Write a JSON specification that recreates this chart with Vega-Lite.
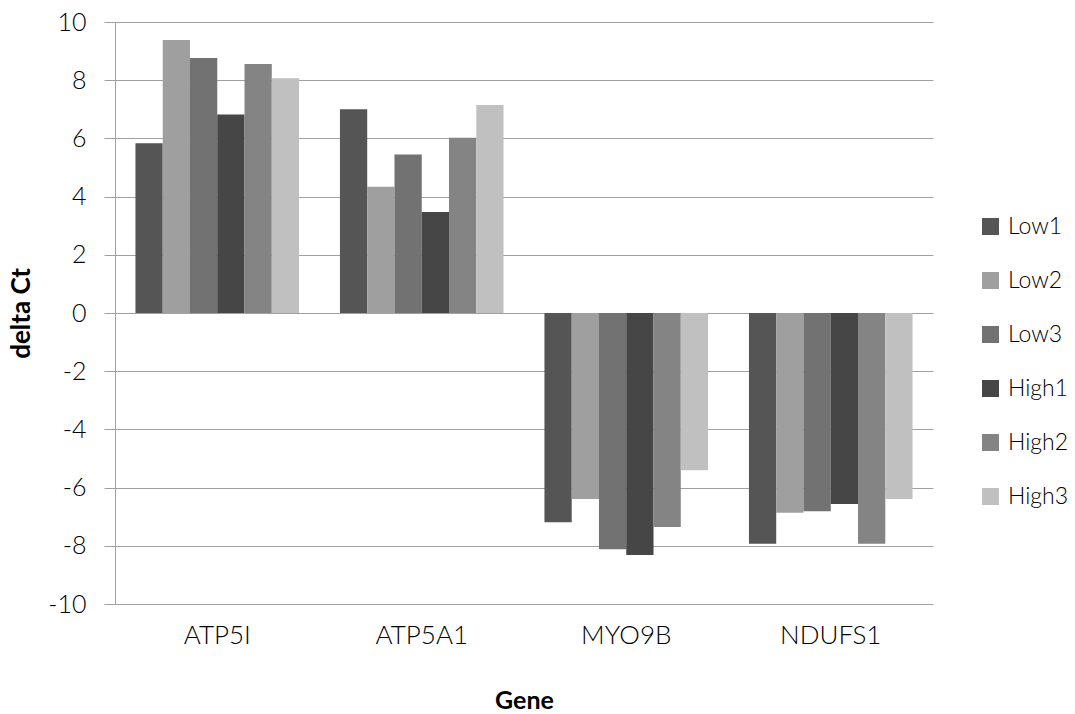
{
  "$schema": "https://vega.github.io/schema/vega-lite/v6.json",
  "width": 818,
  "height": 582,
  "autosize": {"type": "none"},
  "padding": {"left": 115, "top": 22, "right": 142, "bottom": 110},
  "background": "white",
  "config": {
    "view": {"stroke": null},
    "font": "Lato",
    "axis": {"labelFont": "Lato", "titleFont": "Lato", "labelColor": "#000", "titleColor": "#000"},
    "legend": {"labelFont": "Lato", "labelColor": "#000"}
  },
  "data": {
    "values": [
      {"gene": "ATP5I", "sample": "Low1", "dct": 5.83},
      {"gene": "ATP5I", "sample": "Low2", "dct": 9.38},
      {"gene": "ATP5I", "sample": "Low3", "dct": 8.76},
      {"gene": "ATP5I", "sample": "High1", "dct": 6.82},
      {"gene": "ATP5I", "sample": "High2", "dct": 8.56},
      {"gene": "ATP5I", "sample": "High3", "dct": 8.07},
      {"gene": "ATP5A1", "sample": "Low1", "dct": 7.0},
      {"gene": "ATP5A1", "sample": "Low2", "dct": 4.34},
      {"gene": "ATP5A1", "sample": "Low3", "dct": 5.45},
      {"gene": "ATP5A1", "sample": "High1", "dct": 3.47},
      {"gene": "ATP5A1", "sample": "High2", "dct": 6.02},
      {"gene": "ATP5A1", "sample": "High3", "dct": 7.15},
      {"gene": "MYO9B", "sample": "Low1", "dct": -7.19},
      {"gene": "MYO9B", "sample": "Low2", "dct": -6.39},
      {"gene": "MYO9B", "sample": "Low3", "dct": -8.12},
      {"gene": "MYO9B", "sample": "High1", "dct": -8.32},
      {"gene": "MYO9B", "sample": "High2", "dct": -7.35},
      {"gene": "MYO9B", "sample": "High3", "dct": -5.4},
      {"gene": "NDUFS1", "sample": "Low1", "dct": -7.93},
      {"gene": "NDUFS1", "sample": "Low2", "dct": -6.86},
      {"gene": "NDUFS1", "sample": "Low3", "dct": -6.81},
      {"gene": "NDUFS1", "sample": "High1", "dct": -6.56},
      {"gene": "NDUFS1", "sample": "High2", "dct": -7.93},
      {"gene": "NDUFS1", "sample": "High3", "dct": -6.39}
    ]
  },
  "mark": {"type": "bar"},
  "encoding": {
    "x": {
      "field": "gene",
      "type": "nominal",
      "sort": ["ATP5I", "ATP5A1", "MYO9B", "NDUFS1"],
      "scale": {"paddingInner": 0.2, "paddingOuter": 0.1},
      "axis": {
        "title": "Gene",
        "titleFontSize": 25,
        "titleFontWeight": "bold",
        "titlePadding": 40,
        "labelAngle": 0,
        "labelFontSize": 26,
        "labelFontWeight": 300,
        "labelPadding": 18,
        "domain": false,
        "ticks": false,
        "grid": false
      }
    },
    "xOffset": {
      "field": "sample",
      "type": "nominal",
      "sort": ["Low1", "Low2", "Low3", "High1", "High2", "High3"],
      "scale": {"paddingInner": 0, "paddingOuter": 0}
    },
    "y": {
      "field": "dct",
      "type": "quantitative",
      "scale": {"domain": [-10, 10], "nice": false},
      "axis": {
        "title": "delta Ct",
        "titleFontSize": 26,
        "titleFontWeight": "bold",
        "titlePadding": 13,
        "values": [-10, -8, -6, -4, -2, 0, 2, 4, 6, 8, 10],
        "labelExpr": "toString(datum.value)",
        "labelFontSize": 25,
        "labelFontWeight": 300,
        "labelPadding": 18,
        "tickSize": 11,
        "tickColor": "#a0a0a0",
        "domainColor": "#a0a0a0",
        "gridColor": "#a0a0a0",
        "gridWidth": 1,
        "grid": true
      }
    },
    "color": {
      "field": "sample",
      "type": "nominal",
      "sort": ["Low1", "Low2", "Low3", "High1", "High2", "High3"],
      "scale": {
        "domain": ["Low1", "Low2", "Low3", "High1", "High2", "High3"],
        "range": ["#555555", "#9f9f9f", "#727272", "#464646", "#848484", "#c0c0c0"]
      },
      "legend": {
        "title": null,
        "orient": "none",
        "legendX": 864,
        "legendY": 193,
        "symbolType": "square",
        "symbolSize": 289,
        "symbolStrokeWidth": 0,
        "labelFontSize": 23,
        "labelFontWeight": 300,
        "labelOffset": 6,
        "rowPadding": 30,
        "padding": 0
      }
    }
  }
}
